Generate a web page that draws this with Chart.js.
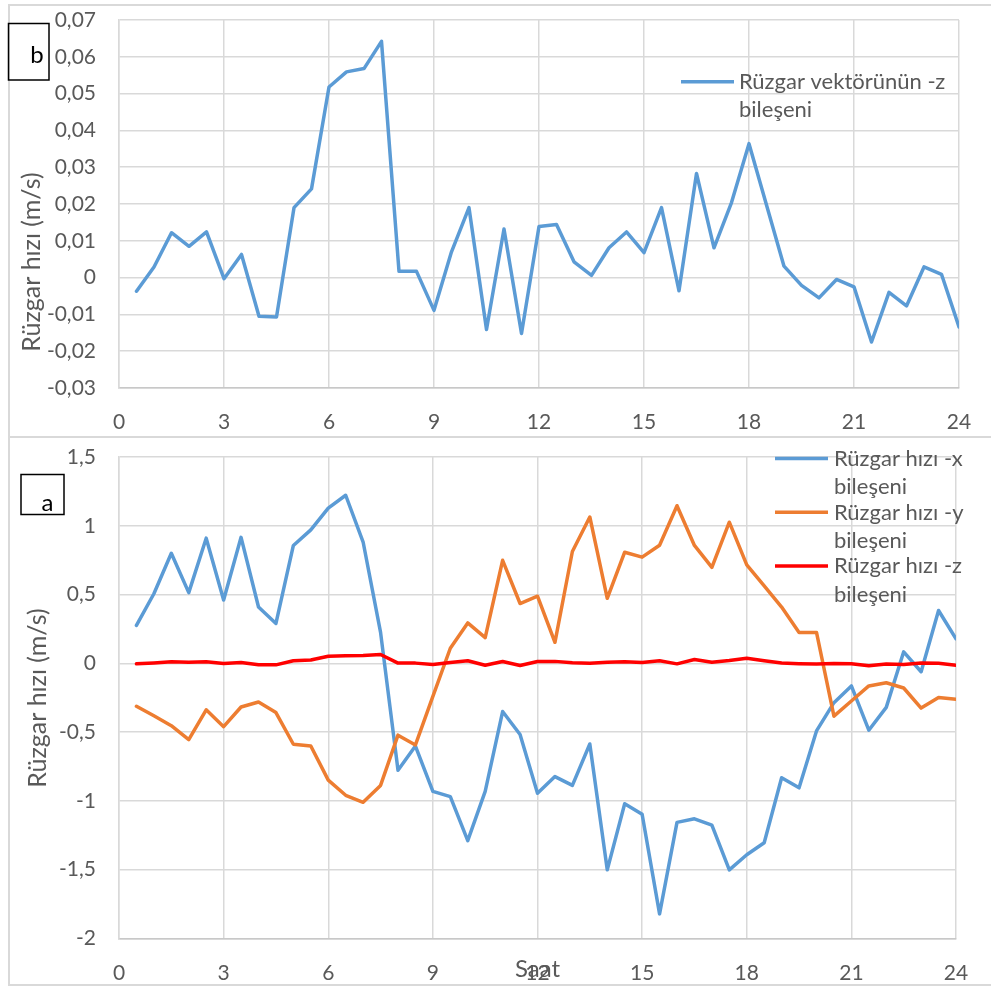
<!DOCTYPE html>
<html>
<head>
<meta charset="utf-8">
<title>Rüzgar hızı bileşenleri</title>
<script src="https://cdn.jsdelivr.net/npm/chart.js@4.4.1/dist/chart.umd.min.js"></script>
<style>
    body { margin: 0; background: #fff; }
    #page { position: relative; width: 991px; height: 987px; overflow: hidden; }
    .frame { position: absolute; border: 2px solid #D9D9D9; border-right: none; }
    canvas { position: absolute; left: 0; }
</style>
</head>
<body>
<div id="page">
    <div class="frame" style="left:8px; top:4px; width:1000px; height:430px;"></div>
    <div class="frame" style="left:8px; top:438px; width:1000px; height:546px; border-top:none;"></div>
    <canvas id="zChart" width="991" height="436" style="top:0"></canvas>
    <canvas id="xyzChart" width="991" height="551" style="top:436px"></canvas>
</div>
<script>
// Saat (hour of day), one value every half hour
const hours = [0.5, 1, 1.5, 2, 2.5, 3, 3.5, 4, 4.5, 5, 5.5, 6,
               6.5, 7, 7.5, 8, 8.5, 9, 9.5, 10, 10.5, 11, 11.5, 12,
               12.5, 13, 13.5, 14, 14.5, 15, 15.5, 16, 16.5, 17, 17.5, 18,
               18.5, 19, 19.5, 20, 20.5, 21, 21.5, 22, 22.5, 23, 23.5, 24];

// Rüzgar hızı -x bileşeni (m/s)
const xComponent = [0.276, 0.506, 0.80, 0.514, 0.91, 0.46, 0.916, 0.41, 0.29, 0.857, 0.97, 1.128,
                    1.222, 0.882, 0.225, -0.777, -0.601, -0.931, -0.969, -1.289, -0.931, -0.35, -0.517, -0.944,
                    -0.823, -0.887, -0.586, -1.501, -1.02, -1.097, -1.821, -1.156, -1.13, -1.176, -1.501, -1.391,
                    -1.304, -0.831, -0.905, -0.491, -0.286, -0.164, -0.486, -0.32, 0.084, -0.061, 0.384, 0.179];

// Rüzgar hızı -y bileşeni (m/s)
const yComponent = [-0.312, -0.381, -0.453, -0.555, -0.338, -0.46, -0.317, -0.281, -0.358, -0.588, -0.601, -0.849,
                    -0.959, -1.01, -0.887, -0.522, -0.593, -0.24, 0.11, 0.294, 0.187, 0.749, 0.435, 0.488,
                    0.153, 0.813, 1.064, 0.473, 0.808, 0.772, 0.859, 1.146, 0.857, 0.698, 1.026, 0.716,
                    0.563, 0.409, 0.225, 0.225, -0.384, -0.274, -0.164, -0.141, -0.179, -0.325, -0.248, -0.261];

// Rüzgar hızı -z bileşeni (m/s), same series in both charts
const zComponent = [-0.0037, 0.0029, 0.0122, 0.0085, 0.0124, -0.0003, 0.0063, -0.0105, -0.0107, 0.019, 0.0241, 0.0518,
                    0.0559, 0.0568, 0.0642, 0.0017, 0.0017, -0.0089, 0.007, 0.019, -0.0141, 0.0132, -0.0152, 0.0139,
                    0.0144, 0.0043, 0.0006, 0.0081, 0.0124, 0.0068, 0.019, -0.0036, 0.0283, 0.0081, 0.0204, 0.0364,
                    0.0197, 0.0031, -0.0021, -0.0055, -0.0005, -0.0025, -0.0175, -0.004, -0.0077, 0.0029, 0.0009, -0.0134];

// Tick values
const hourTicks = [0, 3, 6, 9, 12, 15, 18, 21, 24];
const zTicks = [-0.03, -0.02, -0.01, 0, 0.01, 0.02, 0.03, 0.04, 0.05, 0.06, 0.07];
const xyzTicks = [-2, -1.5, -1, -0.5, 0, 0.5, 1, 1.5];

const FONT = 'Lato';
const GREY = '#595959';

function toPoints(values) {
    return hours.map((h, i) => ({ x: h, y: values[i] }));
}

// Turkish decimal comma
function trNumber(v) {
    return String(Math.round(v * 10000) / 10000).replace('.', ',');
}

function lineDataset(label, values, color, order) {
    return {
        label: label,
        data: toPoints(values),
        borderColor: color,
        backgroundColor: color,
        borderWidth: 3.5,
        pointRadius: 0,
        tension: 0,
        fill: false,
        borderJoinStyle: 'round',
        borderCapStyle: 'round',
        order: order
    };
}

// Excel-like text: axis title, legend on the right, boxed panel letter
function overlayPlugin(cfg) {
    return {
        id: 'overlay',
        afterDraw(chart) {
            const ctx = chart.ctx;
            ctx.save();

            // y axis title
            ctx.fillStyle = GREY;
            ctx.font = '25px ' + FONT;
            ctx.textAlign = 'center';
            ctx.textBaseline = 'middle';
            ctx.translate(cfg.yTitle.x, cfg.yTitle.y);
            ctx.rotate(-Math.PI / 2);
            ctx.fillText('Rüzgar hızı (m/s)', 0, 0);
            ctx.setTransform(1, 0, 0, 1, 0, 0);

            // x axis title (bottom chart only)
            if (cfg.xTitle) {
                ctx.font = '24px ' + FONT;
                ctx.textBaseline = 'alphabetic';
                ctx.fillText('Saat', cfg.xTitle.x, cfg.xTitle.y);
            }

            // legend
            ctx.font = '22px ' + FONT;
            ctx.textAlign = 'left';
            ctx.textBaseline = 'alphabetic';
            const lg = cfg.legend;
            const sets = chart.data.datasets;
            sets.forEach((ds, i) => {
                const base = lg.baseline + i * lg.entryGap;
                ctx.strokeStyle = ds.borderColor;
                ctx.lineWidth = 3.5;
                ctx.beginPath();
                ctx.moveTo(lg.x0, base - 7.5);
                ctx.lineTo(lg.x1, base - 7.5);
                ctx.stroke();

                // wrap the label into lines
                const words = ds.label.split(' ');
                const lines = [];
                let cur = '';
                words.forEach(w => {
                    const test = cur ? cur + ' ' + w : w;
                    if (cur && ctx.measureText(test).width > lg.wrap) {
                        lines.push(cur);
                        cur = w;
                    } else {
                        cur = test;
                    }
                });
                lines.push(cur);
                ctx.fillStyle = GREY;
                lines.forEach((t, j) => ctx.fillText(t, lg.textX, base + j * lg.lineGap));
            });

            // panel letter in a box
            const b = cfg.box;
            ctx.strokeStyle = '#000';
            ctx.lineWidth = 1.5;
            ctx.strokeRect(b.x, b.y, b.w, b.h);
            ctx.fillStyle = '#000';
            ctx.font = '24px ' + FONT;
            ctx.textAlign = 'center';
            ctx.fillText(b.text, b.tx, b.ty);

            ctx.restore();
        }
    };
}

function buildOptions(yTicks, yMin, yMax, pad, xAxisHeight) {
    return {
        responsive: false,
        animation: false,
        devicePixelRatio: 1,
        layout: { padding: pad },
        plugins: {
            legend: { display: false },
            tooltip: { enabled: false }
        },
        scales: {
            x: {
                type: 'linear',
                min: 0,
                max: 24,
                afterBuildTicks: function(scale) {
                    scale.ticks = hourTicks.map(v => ({ value: v }));
                },
                afterFit: function(scale) {
                    scale.height = xAxisHeight;
                    scale.paddingLeft = 0;
                    scale.paddingRight = 0;
                },
                grid: { color: '#D9D9D9', lineWidth: 1.5, drawTicks: false },
                border: { color: '#C8C8C8', width: 1.5 },
                ticks: {
                    padding: 22,
                    color: GREY,
                    font: { family: FONT, size: 21 },
                    maxRotation: 0,
                    callback: function(value) {
                        return String(value);
                    }
                }
            },
            y: {
                type: 'linear',
                min: yMin,
                max: yMax,
                afterBuildTicks: function(scale) {
                    scale.ticks = yTicks.map(v => ({ value: v }));
                },
                afterFit: function(scale) {
                    // fixed plot area like the original, no extra label padding
                    scale.width = 119;
                    scale.paddingTop = 0;
                    scale.paddingBottom = 0;
                },
                grid: { color: '#D9D9D9', lineWidth: 1.5, drawTicks: false },
                border: { color: '#D9D9D9', width: 1.5 },
                ticks: {
                    padding: 23,
                    color: GREY,
                    font: { family: FONT, size: 21 },
                    callback: function(value) {
                        return trNumber(value);
                    }
                }
            }
        }
    };
}

function drawCharts() {
    // b) z component on its own scale
    new Chart(document.getElementById('zChart').getContext('2d'), {
        type: 'line',
        data: {
            datasets: [lineDataset('Rüzgar vektörünün -z bileşeni', zComponent, '#5B9BD5', 1)]
        },
        options: buildOptions(zTicks, -0.03, 0.07, { top: 20, right: 32, left: 0, bottom: 0 }, 48),
        plugins: [overlayPlugin({
            yTitle: { x: 32, y: 262 },
            legend: { x0: 681, x1: 734, textX: 739, baseline: 89.3, lineGap: 28, entryGap: 0, wrap: 225 },
            box: { x: 8.5, y: 23.5, w: 40.5, h: 56.5, text: 'b', tx: 37, ty: 63 }
        })]
    });

    // a) all three components
    new Chart(document.getElementById('xyzChart').getContext('2d'), {
        type: 'line',
        data: {
            datasets: [
                lineDataset('Rüzgar hızı -x bileşeni', xComponent, '#5B9BD5', 3),
                lineDataset('Rüzgar hızı -y bileşeni', yComponent, '#ED7D31', 2),
                lineDataset('Rüzgar hızı -z bileşeni', zComponent, '#FF0000', 1)
            ]
        },
        options: buildOptions(xyzTicks, -2, 1.5, { top: 21, right: 35, left: 0, bottom: 0 }, 48.5),
        plugins: [overlayPlugin({
            yTitle: { x: 37.5, y: 262 },
            xTitle: { x: 537.5, y: 540.7 },
            legend: { x0: 775, x1: 828, textX: 834, baseline: 30, lineGap: 28.3, entryGap: 53.7, wrap: 150 },
            box: { x: 21, y: 38.5, w: 43, h: 40, text: 'a', tx: 47.5, ty: 75 }
        })]
    });
}

drawCharts();
</script>
</body>
</html>
